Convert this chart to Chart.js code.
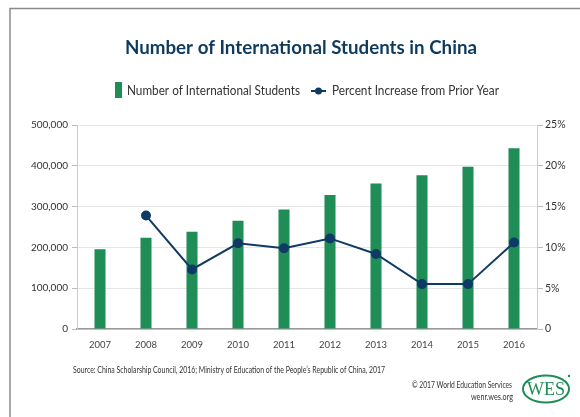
<!DOCTYPE html>
<html>
<head>
<meta charset="utf-8">
<script src="https://cdn.jsdelivr.net/npm/chart.js@4.4.1/dist/chart.umd.min.js"></script>
<style>
html,body{margin:0;padding:0;background:#fff;}
#wrap{width:580px;height:417px;position:relative;}
</style>
</head>
<body>
<div id="wrap"><canvas id="c" width="580" height="417"></canvas></div>
<script>
const years = ['2007','2008','2009','2010','2011','2012','2013','2014','2015','2016'];
const students = [195503, 223499, 238184, 265090, 292611, 328330, 356499, 377054, 397635, 442773];
const pctIncrease = [null, 13.9, 7.3, 10.5, 9.9, 11.1, 9.2, 5.5, 5.5, 10.6];
const leftTicks = [0, 100000, 200000, 300000, 400000, 500000];
const rightTicks = [0, 5, 10, 15, 20, 25];

const titleText = 'Number of International Students in China';
const legendBar = 'Number of International Students';
const legendLine = 'Percent Increase from Prior Year';
const sourceText = 'Source: China Scholarship Council, 2016; Ministry of Education of the People\u2019s Republic of China, 2017';
const copyText1 = '\u00A9 2017 World Education Services';
const copyText2 = 'wenr.wes.org';

const GREEN = '#1f8d56';
const NAVY = '#0f3a65';
const FONT = 'Lato, "Open Sans", sans-serif';

const decor = {
  id: 'decor',
  afterDraw(chart) {
    const ctx = chart.ctx;
    ctx.save();
    // frame
    ctx.strokeStyle = '#8a8a8a';
    ctx.lineWidth = 1.5;
    ctx.beginPath();
    ctx.moveTo(10, 417);
    ctx.lineTo(10, 8.5);
    ctx.lineTo(580, 8.5);
    ctx.stroke();
    // title
    ctx.fillStyle = '#0e3a5e';
    ctx.font = 'bold 19.5px ' + FONT;
    ctx.textAlign = 'center';
    ctx.textBaseline = 'middle';
    ctx.fillText(titleText, 301, 48, 352);
    // legend
    ctx.fillStyle = GREEN;
    ctx.fillRect(115, 82, 7, 16);
    ctx.fillStyle = '#333';
    ctx.font = '12.5px ' + FONT;
    ctx.textAlign = 'left';
    ctx.fillText(legendBar, 127, 91, 173);
    ctx.strokeStyle = NAVY;
    ctx.lineWidth = 2;
    ctx.beginPath();
    ctx.moveTo(311, 91);
    ctx.lineTo(326, 91);
    ctx.stroke();
    ctx.fillStyle = NAVY;
    ctx.beginPath();
    ctx.arc(318.5, 91, 3.5, 0, Math.PI * 2);
    ctx.fill();
    ctx.fillStyle = '#333';
    ctx.fillText(legendLine, 332, 91, 167);
    // source
    ctx.font = '9px ' + FONT;
    ctx.fillStyle = '#333';
    ctx.fillText(sourceText, 73, 370, 312);
    // copyright
    ctx.textAlign = 'right';
    ctx.font = '9.5px ' + FONT;
    ctx.fillText(copyText1, 512, 385, 100);
    ctx.fillText(copyText2, 513, 397, 42);
    // logo
    ctx.strokeStyle = GREEN;
    ctx.lineWidth = 2;
    ctx.beginPath();
    ctx.ellipse(546, 389, 23, 13.5, 0, 0, Math.PI * 2);
    ctx.stroke();
    ctx.fillStyle = GREEN;
    ctx.textAlign = 'center';
    ctx.font = '18px "Liberation Serif", "DejaVu Serif", serif';
    ctx.fillText('WES', 546, 390, 38);
    ctx.beginPath();
    ctx.arc(569, 376, 1.2, 0, Math.PI * 2);
    ctx.fill();
    ctx.restore();
  }
};

new Chart(document.getElementById('c'), {
  type: 'bar',
  data: {
    labels: years,
    datasets: [
      {
        type: 'line',
        label: legendLine,
        data: pctIncrease,
        yAxisID: 'y1',
        borderColor: NAVY,
        backgroundColor: NAVY,
        borderWidth: 2,
        pointRadius: 4,
        pointHoverRadius: 4,
        tension: 0,
        order: 1
      },
      {
        type: 'bar',
        label: legendBar,
        data: students,
        yAxisID: 'y',
        backgroundColor: GREEN,
        categoryPercentage: 1,
        barPercentage: 0.24,
        order: 2
      }
    ]
  },
  options: {
    responsive: false,
    animation: false,
    events: [],
    layout: { padding: { top: 125, left: 0, right: 0, bottom: 0 } },
    plugins: { legend: { display: false }, title: { display: false }, tooltip: { enabled: false } },
    scales: {
      x: {
        afterFit(s) { s.height = 88; },
        grid: { display: false, drawTicks: false },
        border: { display: true, color: '#999', width: 1.5 },
        ticks: { color: '#444', font: { family: FONT, size: 9.5 }, padding: 10, maxRotation: 0 }
      },
      y: {
        position: 'left',
        min: 0, max: 500000,
        afterFit(s) { s.width = 77; },
        afterBuildTicks(s) { s.ticks = leftTicks.map(v => ({ value: v })); },
        grid: { color: '#e6e6e6', tickColor: '#bbb', tickLength: 5, lineWidth: 1 },
        border: { display: true, color: '#ccc', width: 1 },
        ticks: {
          color: '#333', font: { family: FONT, size: 10 }, padding: 4,
          callback: v => v.toLocaleString('en-US')
        }
      },
      y1: {
        position: 'right',
        min: 0, max: 25,
        afterFit(s) { s.width = 43; },
        afterBuildTicks(s) { s.ticks = rightTicks.map(v => ({ value: v })); },
        grid: { drawOnChartArea: false, tickColor: '#bbb', tickLength: 6 },
        border: { display: true, color: '#ccc', width: 1 },
        ticks: {
          color: '#333', font: { family: FONT, size: 10.5 }, padding: 2,
          callback: v => v === 0 ? '0' : v + '%'
        }
      }
    }
  },
  plugins: [decor]
});
</script>
</body>
</html>
